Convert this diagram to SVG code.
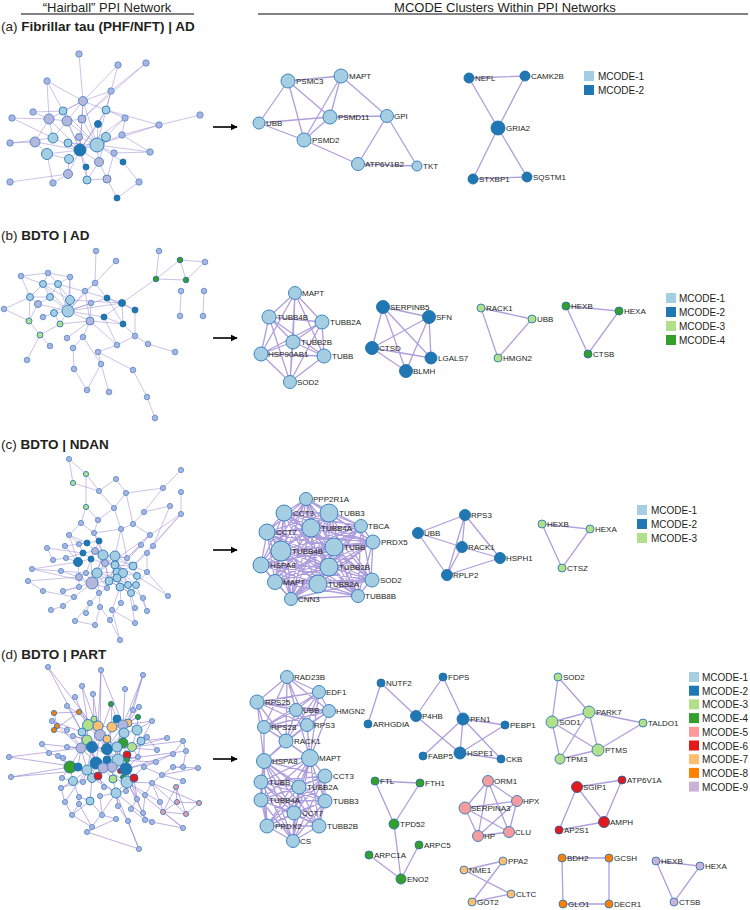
<svg xmlns="http://www.w3.org/2000/svg" width="750" height="910" viewBox="0 0 750 910">
<style>
text{font-family:"Liberation Sans",Arial,sans-serif;fill:#231f20}
.hd{font-size:13px}
.ti{font-size:13.5px}
.lb{font-size:8px}
.lg{font-size:10px}
.hb{stroke:#9b86d2;stroke-width:.6;fill:none;opacity:.85}
.hbd{stroke:#8f78cc;stroke-width:.7;fill:none;opacity:.85}
.ce{stroke:#a18dd6;stroke-width:1.3;fill:none;opacity:.85}
circle{stroke-width:.9}
.g{fill:#a8b5df;stroke:#5f8fd0}
.lv{fill:#b4b7dc;stroke:#4c82c4}
.n1{fill:#a6cee3;stroke:#2b7bba}
.n2{fill:#1f78b4;stroke:#1d6fa9}
.n3{fill:#b2df8a;stroke:#2b7bba}
.n4{fill:#33a02c;stroke:#2b6fa0}
.n5{fill:#f59c9f;stroke:#2b7bba}
.n6{fill:#e31a1c;stroke:#2b5fa0}
.n7{fill:#fdbf6f;stroke:#2b7bba}
.n8{fill:#ff7f00;stroke:#2b7bba}
.n9{fill:#cab2d6;stroke:#2b7bba}
.ar{stroke:#000;stroke-width:1.6}
</style>
<defs>
<marker id="ah" viewBox="0 0 10 10" refX="9" refY="5" markerWidth="4.5" markerHeight="4.5" orient="auto"><path d="M0 0L10 5L0 10z" fill="#000"/></marker>
</defs>
<rect width="750" height="910" fill="#fff"/>

<g id="headers">
<text class="hd" x="107" y="11.5" text-anchor="middle">“Hairball” PPI Network</text>
<line x1="21" y1="14" x2="194" y2="14" stroke="#58595b" stroke-width="1.5"/>
<text class="hd" x="505" y="11.5" text-anchor="middle">MCODE Clusters Within PPI Networks</text>
<line x1="258" y1="14" x2="748" y2="14" stroke="#58595b" stroke-width="1.5"/>
<text class="ti" x="1" y="31">(a) <tspan font-weight="bold">Fibrillar tau (PHF/NFT) | AD</tspan></text>
<text class="ti" x="1" y="240">(b) <tspan font-weight="bold">BDTO | AD</tspan></text>
<text class="ti" x="1" y="449">(c) <tspan font-weight="bold">BDTO | NDAN</tspan></text>
<text class="ti" x="1" y="659">(d) <tspan font-weight="bold">BDTO | PART</tspan></text>
</g>

<g id="connectors">
<path id="hb-a-edges" class="hb" d="M79 54L83 101M118 65L83 101M146 63L111 91M47 81L83 101M47 81L49 119M47 81L63 111M111 91L83 101M111 91L106 110M111 91L82 119M83 101L63 111M83 101L106 110M83 101L82 119M83 101L49 119M83 101L67 121M83 101L97 145M83 101L80 150M12 118L49 119M12 118L53 138M33 112L49 119M33 112L63 111M200 115L159 125M159 125L106 110M159 125L122 135M125 118L106 110M125 118L97 145M125 118L80 150M49 119L67 121M49 119L53 138M49 119L35 142M49 119L80 150M67 121L82 119M67 121L97 145M67 121L80 150M67 121L53 138M82 119L80 150M82 119L97 145M98 124L97 145M98 124L106 110M98 124L80 150M122 135L97 145M122 135L150 152M106 137L97 145M106 137L80 150M79 137L80 150M79 137L97 145M53 138L80 150M35 142L10 143M35 142L47 154M35 142L80 150M68 143L80 150M68 143L97 145M97 145L80 150M97 145L114 153M97 145L99 162M97 145L106 110M80 150L47 154M80 150L69 159M80 150L99 162M80 150L86 167M80 150L68 174M80 150L87 180M10 143L53 138M47 154L69 159M47 154L53 183M114 153L150 152M150 152L97 145M69 159L68 174M99 162L107 179M99 162L87 180M123 162L97 145M123 162L139 182M86 167L87 180M68 174L53 183M68 174L10 182M87 180L107 179M107 179L117 198M139 182L117 198M63 111L97 145M63 111L80 150M106 110L80 150M106 137L99 162M125 118L122 135M114 153L107 179M159 125L97 145M146 63L82 119M118 65L106 110"/>
<path id="hb-b-edges" class="hb" d="M96 251L95 283M159 251L156 279M116 261L95 283M180 260L156 279M180 260L186 280M205 262L186 280M205 262L180 260M156 279L186 280M156 279L122 303M181 291L180 316M204 291L203 316M48 273L21 276M48 273L70 277M48 273L43 284M48 273L58 284M21 276L43 284M21 276L30 297M70 277L58 284M70 277L70 300M70 277L68 311M95 283L68 311M95 283L107 298M95 283L85 291M43 284L58 284M43 284L30 297M43 284L50 297M43 284L70 300M43 284L68 311M58 284L50 297M58 284L70 300M58 284L68 311M30 297L50 297M30 297L4 309M30 297L29 321M30 297L38 304M50 297L68 311M50 297L38 304M70 300L68 311M70 300L54 313M38 304L68 311M38 304L29 321M4 309L29 321M68 311L54 313M68 311L60 324M68 311L107 298M68 311L91 303M68 311L104 317M68 311L90 321M68 311L122 303M54 313L60 324M43 317L54 313M29 321L40 335M60 324L40 335M60 324L90 321M40 335L50 346M40 335L27 360M85 291L68 311M107 298L122 303M107 298L135 310M107 298L123 324M122 303L135 310M122 303L123 324M104 317L123 324M122 303L104 317M91 303L90 321M90 321L117 345M90 321L83 337M90 321L123 324M83 337L73 348M83 337L101 364M67 338L90 321M73 348L74 369M117 345L98 352M117 345L135 336M135 336L148 344M148 344L175 352M98 352L101 364M101 364L109 392M101 364L87 390M74 369L87 390M98 352L133 370M133 370L147 397M147 397L155 418M135 310L135 336M104 317L117 345M123 324L135 336M85 291L90 321M70 300L122 303M58 284L107 298"/>
<path id="hb-c-edges" class="hb" d="M69 459L86 474M69 459L73 483M86 474L86 507M86 474L99 491M116 479L99 491M116 479L126 493M73 483L99 491M99 491L114 508M181 470L163 488M163 488L144 512M163 488L126 493M126 493L114 508M126 493L133 524M144 512L170 506M144 512L133 524M181 492L181 514M181 514L150 535M86 507L81 523M86 507L98 520M114 508L98 520M114 508L121 529M98 520L94 533M81 523L69 535M81 523L94 533M133 524L121 529M133 524L150 535M121 529L94 533M170 506L153 546M181 514L153 546M103 555L115 556M103 555L95 551M103 555L105 563M103 555L97 573M103 555L115 565M103 555L117 572M103 555L109 581M103 555L92 583M103 555L133 566M103 555L127 558M115 556L115 565M115 556L117 572M115 556L127 558M115 556L123 573M115 556L117 578M115 556L97 573M115 556L133 566M115 556L128 585M97 573L92 583M97 573L109 581M97 573L105 563M97 573L86 573M97 573L107 588M97 573L99 593M97 573L117 572M97 573L117 578M92 583L86 573M92 583L79 577M92 583L109 581M92 583L99 593M92 583L107 588M92 583L117 572M92 583L91 559M117 572L123 573M117 572L117 578M117 572L128 585M117 572L120 587M117 572L133 566M123 573L137 576M123 573L128 585M123 573L136 585M123 573L120 587M115 565L133 566M115 565L137 576M115 565L109 581M115 565L120 587M105 563L95 551M105 563L91 559M105 563L109 581M105 563L115 565M95 551L91 559M95 551L83 553M95 551L99 541M95 551L87 543M91 559L83 553M91 559L78 562M91 559L86 573M78 562L83 553M78 562L79 577M78 562L66 558M109 581L117 578M109 581L107 588M109 581L120 587M109 581L131 593M117 578L128 585M117 578L120 587M128 585L136 585M128 585L131 593M128 585L120 587M136 585L137 576M136 585L131 593M133 566L137 576M133 566L127 558M133 566L147 553M133 566L147 572M127 558L141 545M127 558L121 529M127 558L150 535M99 593L107 588M99 593L90 603M99 593L100 607M120 587L131 593M120 587L121 603M87 543L79 544M87 543L99 541M87 543L69 535M99 541L94 533M99 541L103 555M83 553L79 544M83 553L66 558M86 573L79 577M79 577L79 587M79 577L61 571M47 548L83 553M47 548L53 560M65 546L87 543M65 546L78 562M79 544L69 535M53 560L66 558M32 569L61 571M32 569L78 562M61 571L86 573M28 581L79 577M28 581L43 591M43 591L74 597M63 591L92 583M63 591L79 587M74 597L92 583M90 603L86 613M63 606L74 597M51 610L63 606M100 607L110 620M112 610L120 587M135 608L131 593M147 611L136 585M147 611L143 598M143 598L128 585M168 596L137 576M168 596L147 572M75 621L90 603M95 625L100 607M95 625L75 621M110 620L120 640M135 623L112 610M135 623L128 585M120 640L112 610M121 603L110 620M141 545L150 535M153 546L147 553M147 553L147 572M147 572L136 585M94 533L103 555M121 529L115 556M69 535L78 562M150 535L97 573M141 545L109 581M181 514L133 566M32 569L92 583"/>
<path id="hb-d-edges" class="hbd" d="M48 667L82 732M48 667L100 735M101 670L98 726M101 670L123 725M143 675L133 710M143 675L124 733M82 686L88 725M82 686L100 735M125 689L123 725M93 694L94 719M93 694L98 726M75 697L88 725M111 704L112 727M111 704L100 735M111 704L117 719M139 707L128 723M139 707L133 710M67 706L82 732M67 706L98 726M54 713L57 726M54 713L79 712M79 712L54 730M79 712L88 725M133 710L124 733M138 717L123 725M138 717L137 730M52 721L82 732M52 721L81 748M57 726L54 730M57 726L67 730M152 721L137 730M152 721L141 741M54 730L87 740M73 736L81 748M73 736L87 740M147 737L141 741M147 737L157 750M167 738L141 741M167 738L132 747M183 741L173 754M183 741L186 751M42 744L81 748M42 744L49 753M67 747L81 748M49 753L58 756M9 757L81 748M9 757L78 767M58 756L70 767M138 757L118 760M138 757L126 769M157 750L117 747M173 754L156 762M156 762L126 769M186 751L183 767M183 767L173 767M198 768L173 767M198 768L162 775M63 758L70 767M144 767L127 782M173 767L162 775M11 777L70 767M11 777L87 770M62 778L73 781M62 778L70 767M162 775L152 783M183 781L176 787M152 783L127 782M61 788L73 781M61 788L65 802M176 787L177 802M176 787L163 812M177 802L199 803M177 802L163 812M199 803L186 814M163 812L186 814M176 787L186 814M160 802L163 812M160 802L152 783M79 797L90 801M79 797L79 804M100 796L116 793M65 802L72 815M137 799L127 782M145 795L152 783M145 795L143 813M79 804L72 815M118 806L116 793M131 809L137 799M72 815L92 827M102 815L90 801M102 815L116 819M143 813L145 820M145 820L152 822M152 822L183 828M128 821L118 806M128 821L139 849M116 819L87 832M92 827L87 832M87 832L139 849M183 828L163 812M104 787L98 776M83 782L87 770M183 781L162 775M79 804L92 827M72 815L90 801M131 809L145 820M100 796L102 815M143 675L123 725M101 670L100 735M139 849L116 793M183 828L127 782M199 803L152 783M186 751L118 760M183 741L132 747M65 802L87 770M61 788L92 778M92 827L116 793M143 813L127 782M173 754L126 769M156 762L118 760M160 802L127 782M152 822L116 793M145 820L126 769M186 814L152 783M152 721L123 725M88 725L98 726M88 725L100 735M88 725L87 740M88 725L82 732M88 725L81 748M98 726L112 727M98 726L100 735M98 726L107 739M98 726L92 747M112 727L123 725M112 727L124 733M112 727L107 739M112 727L107 749M123 725L128 723M123 725L124 733M123 725L123 743M123 725L117 747M128 723L137 730M82 732L81 748M82 732L87 740M100 735L107 739M100 735L92 747M100 735L107 749M100 735L96 763M124 733L137 730M124 733L123 743M124 733L117 747M124 733L118 760M137 730L141 741M137 730L132 747M87 740L81 748M87 740L92 747M87 740L96 763M107 739L107 749M107 739L117 747M123 743L117 747M123 743L132 747M123 743L118 760M123 743L127 755M81 748L92 747M81 748L70 767M81 748L78 767M81 748L96 763M92 747L107 749M92 747L96 763M92 747L87 770M107 749L117 747M107 749L107 760M107 749L118 760M107 749L112 767M117 747L118 760M117 747L112 767M132 747L127 755M132 747L138 757M127 755L118 760M127 755L126 769M96 763L107 760M96 763L87 770M96 763L92 778M96 763L103 768M107 760L118 760M107 760L103 768M118 760L112 767M118 760L126 769M118 760L127 782M70 767L78 767M70 767L73 781M78 767L87 770M112 767L103 768M112 767L126 769M112 767L113 779M87 770L92 778M87 770L73 781M103 768L98 776M103 768L113 779M126 769L127 782M126 769L134 778M92 778L98 776M92 778L90 801M113 779L127 782M113 779L116 793M127 782L134 778M127 782L116 793M134 778L137 799M73 781L79 797M116 793L126 791M116 793L118 806M94 719L88 725M94 719L98 726M117 719L112 727M117 719L123 725M138 717L128 723M141 741L132 747M141 741L138 757M156 762L144 767M162 775L144 767M82 732L96 763M88 725L107 749M87 740L118 760M100 735L117 747M81 748L87 770M123 725L107 749M124 733L107 749M92 747L118 760M96 763L127 782M87 770L116 793M92 778L116 793M78 767L92 778"/>
<g id="cluster-edges">
<path class="ce" d="M288 81L341 76M288 81L259 123M288 81L330 117M288 81L304 140M341 76L330 117M341 76L304 140M341 76L387 116M259 123L330 117M259 123L304 140M330 117L304 140M330 117L387 116M304 140L358 164M387 116L358 164M387 116L417 166M358 164L417 166"/>
<path class="ce" d="M469 78L525 76M469 78L498 128M525 76L498 128M498 128L473 179M498 128L527 177M473 179L527 177"/>
<path class="ce" d="M295 293L269 317M295 293L322 322M295 293L293 342M295 293L261 354M295 293L324 356M295 293L290 382M269 317L322 322M269 317L293 342M269 317L261 354M269 317L324 356M269 317L290 382M322 322L293 342M322 322L261 354M322 322L324 356M322 322L290 382M293 342L261 354M293 342L324 356M293 342L290 382M261 354L324 356M261 354L290 382M324 356L290 382"/>
<path class="ce" d="M383 307L429 317M383 307L372 348M383 307L431 358M383 307L406 371M429 317L372 348M429 317L431 358M429 317L406 371M372 348L431 358M372 348L406 371"/>
<path class="ce" d="M481 308L532 319L498 358Z"/>
<path class="ce" d="M566 306L619 311L588 354Z"/>
<path class="ce" d="M306 499L284 513M306 499L329 513M306 499L361 526M306 499L267 532M306 499L311 528M306 499L373 542M306 499L281 551M306 499L334 547M306 499L261 565M306 499L329 567M306 499L371 580M306 499L275 582M306 499L318 584M306 499L291 599M306 499L358 596M284 513L329 513M284 513L361 526M284 513L267 532M284 513L311 528M284 513L373 542M284 513L281 551M284 513L334 547M284 513L261 565M284 513L329 567M284 513L371 580M284 513L275 582M284 513L318 584M284 513L291 599M284 513L358 596M329 513L361 526M329 513L267 532M329 513L311 528M329 513L373 542M329 513L281 551M329 513L334 547M329 513L261 565M329 513L329 567M329 513L371 580M329 513L275 582M329 513L318 584M329 513L291 599M329 513L358 596M361 526L267 532M361 526L311 528M361 526L373 542M361 526L281 551M361 526L334 547M361 526L261 565M361 526L329 567M361 526L371 580M361 526L275 582M361 526L318 584M361 526L291 599M361 526L358 596M267 532L311 528M267 532L373 542M267 532L281 551M267 532L334 547M267 532L261 565M267 532L329 567M267 532L371 580M267 532L275 582M267 532L318 584M267 532L291 599M267 532L358 596M311 528L373 542M311 528L281 551M311 528L334 547M311 528L261 565M311 528L329 567M311 528L371 580M311 528L275 582M311 528L318 584M311 528L291 599M311 528L358 596M373 542L281 551M373 542L334 547M373 542L261 565M373 542L329 567M373 542L371 580M373 542L275 582M373 542L318 584M373 542L291 599M373 542L358 596M281 551L334 547M281 551L261 565M281 551L329 567M281 551L371 580M281 551L275 582M281 551L318 584M281 551L291 599M281 551L358 596M334 547L261 565M334 547L329 567M334 547L371 580M334 547L275 582M334 547L318 584M334 547L291 599M334 547L358 596M261 565L329 567M261 565L371 580M261 565L275 582M261 565L318 584M261 565L291 599M261 565L358 596M329 567L371 580M329 567L275 582M329 567L318 584M329 567L291 599M329 567L358 596M371 580L275 582M371 580L318 584M371 580L291 599M371 580L358 596M275 582L318 584M275 582L291 599M275 582L358 596M318 584L291 599M318 584L358 596M291 599L358 596"/>
<path class="ce" d="M465 515L418 533M465 515L462 547M465 515L500 558M465 515L447 575M418 533L462 547M418 533L447 575M462 547L500 558M462 547L447 575M500 558L447 575"/>
<path class="ce" d="M542 524L590 529L562 568Z"/>
<path class="ce" d="M287 677L319 692M287 677L257 702M287 677L296 710M287 677L329 711M287 677L264 727M287 677L307 725M287 677L286 741M319 692L257 702M319 692L296 710M319 692L329 711M319 692L264 727M319 692L307 725M319 692L286 741M257 702L296 710M257 702L329 711M257 702L264 727M257 702L307 725M257 702L286 741M296 710L329 711M296 710L264 727M296 710L307 725M296 710L286 741M329 711L264 727M329 711L307 725M329 711L286 741M264 727L307 725M264 727L286 741M307 725L286 741M257 702L264 761M264 727L264 761M286 741L264 761M286 741L310 758M296 710L310 758M307 725L310 758M329 711L310 758M319 692L310 758M264 727L310 758M307 725L264 761M264 761L310 758M264 761L325 776M264 761L261 782M264 761L299 787M264 761L261 800M264 761L325 801M264 761L294 813M264 761L267 826M264 761L319 826M264 761L293 841M310 758L325 776M310 758L261 782M310 758L299 787M310 758L261 800M310 758L325 801M310 758L294 813M310 758L267 826M310 758L319 826M310 758L293 841M325 776L261 782M325 776L299 787M325 776L261 800M325 776L325 801M325 776L294 813M325 776L267 826M325 776L319 826M325 776L293 841M261 782L299 787M261 782L261 800M261 782L325 801M261 782L294 813M261 782L267 826M261 782L319 826M261 782L293 841M299 787L261 800M299 787L325 801M299 787L294 813M299 787L267 826M299 787L319 826M299 787L293 841M261 800L325 801M261 800L294 813M261 800L267 826M261 800L319 826M261 800L293 841M325 801L294 813M325 801L267 826M325 801L319 826M325 801L293 841M294 813L267 826M294 813L319 826M294 813L293 841M267 826L319 826M267 826L293 841M319 826L293 841"/>
<path class="ce" d="M381 683L416 716M381 683L368 724M443 677L416 716M443 677L463 719M416 716L460 753M463 719L423 756M463 719L460 753M463 719L505 725M463 719L501 759M460 753L505 725M460 753L501 759"/>
<path class="ce" d="M558 677L552 722M558 677L589 712M589 712L552 722M589 712L643 723M589 712L598 750M589 712L560 759M552 722L598 750M552 722L560 759M598 750L643 723M598 750L560 759"/>
<path class="ce" d="M375 781L420 783M375 781L394 824M420 783L394 824M394 824L401 879M419 845L401 879M369 855L401 879"/>
<path class="ce" d="M488 781L517 801M488 781L465 808M488 781L478 836M488 781L509 832M465 808L517 801M465 808L478 836M465 808L509 832M517 801L509 832M517 801L478 836M478 836L509 832"/>
<path class="ce" d="M577 787L622 780M577 787L604 822M577 787L559 830M622 780L604 822M604 822L559 830"/>
<path class="ce" d="M464 870L503 861M464 870L511 894M503 861L472 902M472 902L511 894"/>
<path class="ce" d="M562 858L609 858L609 904L563 904Z"/>
<path class="ce" d="M656 861L700 866L674 902Z"/>
</g>
</g>

<g id="hairball-a">
<circle class="g" cx="79" cy="54" r="3.2"/><circle class="g" cx="118" cy="65" r="3.2"/><circle class="g" cx="146" cy="63" r="3.2"/><circle class="g" cx="47" cy="81" r="3.2"/><circle class="g" cx="111" cy="91" r="3.2"/><circle class="g" cx="12" cy="118" r="3.2"/><circle class="g" cx="33" cy="112" r="3.2"/><circle class="g" cx="125" cy="118" r="3.2"/><circle class="g" cx="200" cy="115" r="3.2"/><circle class="g" cx="159" cy="125" r="3.2"/><circle class="g" cx="122" cy="135" r="3.2"/><circle class="g" cx="10" cy="143" r="3.2"/><circle class="g" cx="114" cy="153" r="3.2"/><circle class="g" cx="150" cy="152" r="3.2"/><circle class="g" cx="53" cy="183" r="3.2"/><circle class="g" cx="10" cy="182" r="3.2"/><circle class="g" cx="139" cy="182" r="3.2"/>
<circle class="lv" cx="83" cy="101" r="4.5"/><circle class="lv" cx="49" cy="119" r="5"/><circle class="lv" cx="67" cy="121" r="5"/><circle class="lv" cx="82" cy="119" r="4"/><circle class="lv" cx="79" cy="137" r="3.5"/><circle class="lv" cx="35" cy="142" r="5"/><circle class="lv" cx="99" cy="162" r="4.5"/><circle class="lv" cx="68" cy="174" r="4.5"/><circle class="lv" cx="107" cy="179" r="4"/>
<circle class="n1" cx="63" cy="111" r="4"/><circle class="n1" cx="106" cy="110" r="4"/><circle class="n1" cx="106" cy="137" r="4.5"/><circle class="n1" cx="53" cy="138" r="5"/><circle class="n1" cx="68" cy="143" r="4"/><circle class="n1" cx="97" cy="145" r="7"/><circle class="n1" cx="47" cy="154" r="5.5"/><circle class="n1" cx="69" cy="159" r="4.5"/><circle class="n1" cx="87" cy="180" r="4"/>
<circle class="n2" cx="98" cy="124" r="3.5"/><circle class="n2" cx="80" cy="150" r="6"/><circle class="n2" cx="123" cy="162" r="3"/><circle class="n2" cx="86" cy="167" r="3"/><circle class="n2" cx="117" cy="198" r="3"/>
</g>

<g id="hairball-b">
<circle class="g" cx="96" cy="251" r="2.8"/><circle class="g" cx="159" cy="251" r="2.8"/><circle class="g" cx="116" cy="261" r="2.8"/><circle class="g" cx="205" cy="262" r="2.8"/><circle class="g" cx="48" cy="273" r="2.8"/><circle class="g" cx="21" cy="276" r="2.8"/><circle class="g" cx="70" cy="277" r="2.8"/><circle class="g" cx="95" cy="283" r="2.8"/><circle class="g" cx="181" cy="291" r="2.8"/><circle class="g" cx="204" cy="291" r="2.8"/><circle class="g" cx="85" cy="291" r="2.8"/><circle class="g" cx="91" cy="303" r="2.8"/><circle class="g" cx="4" cy="309" r="2.8"/><circle class="g" cx="43" cy="317" r="2.8"/><circle class="g" cx="180" cy="316" r="2.8"/><circle class="g" cx="203" cy="316" r="2.8"/><circle class="g" cx="83" cy="337" r="2.8"/><circle class="g" cx="135" cy="336" r="2.8"/><circle class="g" cx="67" cy="338" r="2.8"/><circle class="g" cx="73" cy="348" r="2.8"/><circle class="g" cx="117" cy="345" r="2.8"/><circle class="g" cx="50" cy="346" r="2.8"/><circle class="g" cx="148" cy="344" r="2.8"/><circle class="g" cx="98" cy="352" r="2.8"/><circle class="g" cx="175" cy="352" r="2.8"/><circle class="g" cx="27" cy="360" r="2.8"/><circle class="g" cx="101" cy="364" r="2.8"/><circle class="g" cx="74" cy="369" r="2.8"/><circle class="g" cx="133" cy="370" r="2.8"/><circle class="g" cx="87" cy="390" r="2.8"/><circle class="g" cx="109" cy="392" r="2.8"/><circle class="g" cx="147" cy="397" r="2.8"/><circle class="g" cx="155" cy="418" r="2.8"/>
<circle class="n4" cx="180" cy="260" r="2.8"/><circle class="n4" cx="156" cy="279" r="2.8"/><circle class="n4" cx="186" cy="280" r="2.8"/>
<circle class="n1" cx="43" cy="284" r="3.5"/><circle class="n1" cx="58" cy="284" r="3.5"/><circle class="n1" cx="30" cy="297" r="3.5"/><circle class="n1" cx="50" cy="297" r="3.5"/><circle class="n1" cx="70" cy="300" r="4.5"/><circle class="n1" cx="68" cy="311" r="6"/><circle class="n1" cx="54" cy="313" r="3.5"/>
<circle class="lv" cx="38" cy="304" r="3.5"/><circle class="lv" cx="90" cy="321" r="4"/>
<circle class="n2" cx="107" cy="298" r="3"/><circle class="n2" cx="122" cy="303" r="3.5"/><circle class="n2" cx="135" cy="310" r="3"/><circle class="n2" cx="104" cy="317" r="3"/><circle class="n2" cx="123" cy="324" r="3"/>
<circle class="n3" cx="29" cy="321" r="3"/><circle class="n3" cx="60" cy="324" r="3"/><circle class="n3" cx="40" cy="335" r="3"/>
</g>

<g id="hairball-c">
<circle class="g" cx="69" cy="459" r="2.6"/><circle class="g" cx="181" cy="470" r="2.6"/><circle class="g" cx="116" cy="479" r="2.6"/><circle class="g" cx="99" cy="491" r="2.6"/><circle class="g" cx="163" cy="488" r="2.6"/><circle class="g" cx="126" cy="493" r="2.6"/><circle class="g" cx="181" cy="492" r="2.6"/><circle class="g" cx="114" cy="508" r="2.6"/><circle class="g" cx="144" cy="512" r="2.6"/><circle class="g" cx="170" cy="506" r="2.6"/><circle class="g" cx="181" cy="514" r="2.6"/><circle class="g" cx="98" cy="520" r="2.6"/><circle class="g" cx="81" cy="523" r="2.6"/><circle class="g" cx="133" cy="524" r="2.6"/><circle class="g" cx="121" cy="529" r="2.6"/><circle class="g" cx="69" cy="535" r="2.6"/><circle class="g" cx="94" cy="533" r="2.6"/><circle class="g" cx="150" cy="535" r="2.6"/><circle class="g" cx="47" cy="548" r="2.6"/><circle class="g" cx="65" cy="546" r="2.6"/><circle class="g" cx="79" cy="544" r="2.6"/><circle class="g" cx="141" cy="545" r="2.6"/><circle class="g" cx="153" cy="546" r="2.6"/><circle class="g" cx="127" cy="558" r="2.6"/><circle class="g" cx="53" cy="560" r="2.6"/><circle class="g" cx="66" cy="558" r="2.6"/><circle class="g" cx="147" cy="553" r="2.6"/><circle class="g" cx="32" cy="569" r="2.6"/><circle class="g" cx="61" cy="571" r="2.6"/><circle class="g" cx="86" cy="573" r="2.6"/><circle class="g" cx="147" cy="572" r="2.6"/><circle class="g" cx="28" cy="581" r="2.6"/><circle class="g" cx="79" cy="587" r="2.6"/><circle class="g" cx="107" cy="588" r="2.6"/><circle class="g" cx="43" cy="591" r="2.6"/><circle class="g" cx="63" cy="591" r="2.6"/><circle class="g" cx="99" cy="593" r="2.6"/><circle class="g" cx="168" cy="596" r="2.6"/><circle class="g" cx="143" cy="598" r="2.6"/><circle class="g" cx="74" cy="597" r="2.6"/><circle class="g" cx="90" cy="603" r="2.6"/><circle class="g" cx="121" cy="603" r="2.6"/><circle class="g" cx="63" cy="606" r="2.6"/><circle class="g" cx="100" cy="607" r="2.6"/><circle class="g" cx="51" cy="610" r="2.6"/><circle class="g" cx="112" cy="610" r="2.6"/><circle class="g" cx="135" cy="608" r="2.6"/><circle class="g" cx="147" cy="611" r="2.6"/><circle class="g" cx="86" cy="613" r="2.6"/><circle class="g" cx="75" cy="621" r="2.6"/><circle class="g" cx="110" cy="620" r="2.6"/><circle class="g" cx="95" cy="625" r="2.6"/><circle class="g" cx="135" cy="623" r="2.6"/><circle class="g" cx="120" cy="640" r="2.6"/>
<circle class="n3" cx="86" cy="474" r="2.6"/><circle class="n3" cx="73" cy="483" r="2.6"/><circle class="n3" cx="86" cy="507" r="2.6"/>
<circle class="lv" cx="95" cy="551" r="3.5"/><circle class="lv" cx="105" cy="563" r="3.5"/><circle class="lv" cx="79" cy="577" r="3.5"/>
<circle class="n1" cx="103" cy="555" r="5"/><circle class="n1" cx="115" cy="556" r="5"/><circle class="n1" cx="115" cy="565" r="4"/><circle class="n1" cx="133" cy="566" r="4"/><circle class="n1" cx="97" cy="573" r="5"/><circle class="n1" cx="117" cy="572" r="4"/><circle class="n1" cx="123" cy="573" r="4.5"/><circle class="n1" cx="137" cy="576" r="3.5"/><circle class="n1" cx="109" cy="581" r="4"/><circle class="n1" cx="117" cy="578" r="4"/><circle class="n1" cx="128" cy="585" r="3.5"/><circle class="n1" cx="136" cy="585" r="3.5"/><circle class="n1" cx="120" cy="587" r="4"/><circle class="n1" cx="131" cy="593" r="3.5"/>
<circle class="lv" cx="92" cy="583" r="6"/>
<circle class="n2" cx="87" cy="543" r="3"/><circle class="n2" cx="99" cy="541" r="3"/><circle class="n2" cx="83" cy="553" r="3"/><circle class="n2" cx="91" cy="559" r="3"/><circle class="n2" cx="78" cy="562" r="4.5"/>
</g>

<g id="hairball-d">
<circle class="g" cx="48" cy="667" r="2.6"/><circle class="g" cx="101" cy="670" r="2.6"/><circle class="g" cx="143" cy="675" r="2.6"/><circle class="g" cx="82" cy="686" r="2.6"/><circle class="g" cx="125" cy="689" r="2.6"/><circle class="g" cx="93" cy="694" r="2.6"/><circle class="g" cx="75" cy="697" r="2.6"/><circle class="g" cx="139" cy="707" r="2.6"/><circle class="g" cx="67" cy="706" r="2.6"/><circle class="g" cx="133" cy="710" r="2.6"/><circle class="g" cx="52" cy="721" r="2.6"/><circle class="g" cx="152" cy="721" r="2.6"/><circle class="g" cx="73" cy="736" r="2.6"/><circle class="g" cx="147" cy="737" r="2.6"/><circle class="g" cx="67" cy="730" r="2.6"/><circle class="g" cx="167" cy="738" r="2.6"/><circle class="g" cx="183" cy="741" r="2.6"/><circle class="g" cx="42" cy="744" r="2.6"/><circle class="g" cx="67" cy="747" r="2.6"/><circle class="g" cx="49" cy="753" r="2.6"/><circle class="g" cx="9" cy="757" r="2.6"/><circle class="g" cx="58" cy="756" r="2.6"/><circle class="g" cx="138" cy="757" r="2.6"/><circle class="g" cx="157" cy="750" r="2.6"/><circle class="g" cx="173" cy="754" r="2.6"/><circle class="g" cx="186" cy="751" r="2.6"/><circle class="g" cx="156" cy="762" r="2.6"/><circle class="g" cx="183" cy="767" r="2.6"/><circle class="g" cx="198" cy="768" r="2.6"/><circle class="g" cx="63" cy="758" r="2.6"/><circle class="g" cx="144" cy="767" r="2.6"/><circle class="g" cx="173" cy="767" r="2.6"/><circle class="g" cx="11" cy="777" r="2.6"/><circle class="g" cx="62" cy="778" r="2.6"/><circle class="g" cx="83" cy="782" r="2.6"/><circle class="g" cx="162" cy="775" r="2.6"/><circle class="g" cx="183" cy="781" r="2.6"/><circle class="g" cx="152" cy="783" r="2.6"/><circle class="g" cx="61" cy="788" r="2.6"/><circle class="g" cx="104" cy="787" r="2.6"/><circle class="g" cx="126" cy="791" r="2.6"/><circle class="g" cx="79" cy="797" r="2.6"/><circle class="g" cx="100" cy="796" r="2.6"/><circle class="g" cx="65" cy="802" r="2.6"/><circle class="g" cx="137" cy="799" r="2.6"/><circle class="g" cx="145" cy="795" r="2.6"/><circle class="g" cx="160" cy="802" r="2.6"/><circle class="g" cx="79" cy="804" r="2.6"/><circle class="g" cx="118" cy="806" r="2.6"/><circle class="g" cx="131" cy="809" r="2.6"/><circle class="g" cx="72" cy="815" r="2.6"/><circle class="g" cx="102" cy="815" r="2.6"/><circle class="g" cx="143" cy="813" r="2.6"/><circle class="g" cx="145" cy="820" r="2.6"/><circle class="g" cx="152" cy="822" r="2.6"/><circle class="g" cx="128" cy="821" r="2.6"/><circle class="g" cx="116" cy="819" r="2.6"/><circle class="g" cx="92" cy="827" r="2.6"/><circle class="g" cx="87" cy="832" r="2.6"/><circle class="g" cx="183" cy="828" r="2.6"/><circle class="g" cx="139" cy="849" r="2.6"/>
<circle class="n8" cx="54" cy="713" r="2.6"/><circle class="n8" cx="79" cy="712" r="2.6"/><circle class="n8" cx="57" cy="726" r="2.6"/><circle class="n8" cx="54" cy="730" r="2.6"/>
<circle class="n4" cx="111" cy="704" r="2.6"/><circle class="n4" cx="138" cy="717" r="2.6"/>
<circle class="n5" cx="176" cy="787" r="2.5"/><circle class="n5" cx="177" cy="802" r="2.5"/><circle class="n5" cx="199" cy="803" r="2.5"/><circle class="n5" cx="163" cy="812" r="2.5"/><circle class="n5" cx="186" cy="814" r="2.5"/>
<circle class="n3" cx="94" cy="719" r="3"/><circle class="n2" cx="117" cy="719" r="4"/>
<circle class="n7" cx="128" cy="723" r="4"/><circle class="n3" cx="88" cy="725" r="5.5"/><circle class="n7" cx="98" cy="726" r="5"/><circle class="n7" cx="112" cy="727" r="5"/><circle class="lv" cx="123" cy="725" r="5"/>
<circle class="n1" cx="82" cy="732" r="4"/><circle class="lv" cx="100" cy="735" r="5.5"/><circle class="n1" cx="124" cy="733" r="5"/><circle class="n1" cx="137" cy="730" r="5"/>
<circle class="n3" cx="87" cy="740" r="5"/><circle class="n7" cx="107" cy="739" r="4"/><circle class="n4" cx="123" cy="743" r="5"/><circle class="n1" cx="141" cy="741" r="4"/>
<circle class="lv" cx="81" cy="748" r="5"/><circle class="n2" cx="92" cy="747" r="5.5"/><circle class="n2" cx="107" cy="749" r="5.5"/><circle class="n1" cx="117" cy="747" r="5"/><circle class="n3" cx="132" cy="747" r="4.5"/>
<circle class="n6" cx="127" cy="755" r="4"/>
<circle class="n2" cx="96" cy="763" r="6"/><circle class="n2" cx="107" cy="760" r="4"/><circle class="n1" cx="118" cy="760" r="6"/>
<circle class="n4" cx="70" cy="767" r="6"/><circle class="n2" cx="78" cy="767" r="4"/><circle class="lv" cx="112" cy="767" r="5"/><circle class="n4" cx="127" cy="760" r="2.5"/>
<circle class="n1" cx="87" cy="770" r="5"/><circle class="lv" cx="103" cy="768" r="5"/><circle class="n6" cx="120" cy="771" r="2.5"/><circle class="n2" cx="126" cy="769" r="6"/>
<circle class="n1" cx="92" cy="778" r="4.5"/><circle class="n6" cx="98" cy="776" r="4"/><circle class="n3" cx="113" cy="779" r="4"/><circle class="n4" cx="123" cy="777" r="2.5"/><circle class="n1" cx="127" cy="782" r="6"/><circle class="n6" cx="134" cy="778" r="4"/>
<circle class="n1" cx="73" cy="781" r="4.5"/><circle class="n1" cx="116" cy="793" r="5"/><circle class="n1" cx="90" cy="801" r="4"/>
</g>

<g id="arrows">
<line class="ar" x1="213" y1="127" x2="237" y2="127" marker-end="url(#ah)"/>
<line class="ar" x1="213" y1="338" x2="237" y2="338" marker-end="url(#ah)"/>
<line class="ar" x1="213" y1="550" x2="237" y2="550" marker-end="url(#ah)"/>
<line class="ar" x1="213" y1="759" x2="237" y2="759" marker-end="url(#ah)"/>
</g>

<g id="a-TKT"><circle class="n1" cx="417" cy="166" r="5"/><text class="lb" x="423" y="169">TKT</text></g>
<g id="a-GPI"><circle class="n1" cx="387" cy="116" r="6.5"/><text class="lb" x="394" y="119">GPI</text></g>
<g id="a-ATP6V1B2"><circle class="n1" cx="358" cy="164" r="6.5"/><text class="lb" x="365" y="167">ATP6V1B2</text></g>
<g id="a-MAPT"><circle class="n1" cx="341" cy="76" r="7"/><text class="lb" x="349" y="79">MAPT</text></g>
<g id="a-PSMD11"><circle class="n1" cx="330" cy="117" r="7"/><text class="lb" x="338" y="120">PSMD11</text></g>
<g id="a-PSMD2"><circle class="n1" cx="304" cy="140" r="7"/><text class="lb" x="312" y="143">PSMD2</text></g>
<g id="a-PSMC3"><circle class="n1" cx="288" cy="81" r="7"/><text class="lb" x="296" y="84">PSMC3</text></g>
<g id="a-UBB"><circle class="n1" cx="259" cy="123" r="6"/><text class="lb" x="266" y="126">UBB</text></g>
<g id="a-NEFL"><circle class="n2" cx="469" cy="78" r="5"/><text class="lb" x="475" y="81">NEFL</text></g>
<g id="a-CAMK2B"><circle class="n2" cx="525" cy="76" r="5"/><text class="lb" x="531" y="79">CAMK2B</text></g>
<g id="a-GRIA2"><circle class="n2" cx="498" cy="128" r="7"/><text class="lb" x="506" y="131">GRIA2</text></g>
<g id="a-STXBP1"><circle class="n2" cx="473" cy="179" r="5"/><text class="lb" x="479" y="182">STXBP1</text></g>
<g id="a-SQSTM1"><circle class="n2" cx="527" cy="177" r="5"/><text class="lb" x="533" y="180">SQSTM1</text></g>
<g id="legend-a">
<rect x="584" y="71" width="10" height="10" fill="#a6cee3"/><text class="lg" x="598" y="80">MCODE-1</text>
<rect x="584" y="85" width="10" height="10" fill="#1f78b4"/><text class="lg" x="598" y="94">MCODE-2</text>
</g>

<g id="b-TUBB"><circle class="n1" cx="324" cy="356" r="7"/><text class="lb" x="332" y="359">TUBB</text></g>
<g id="b-TUBB2A"><circle class="n1" cx="322" cy="322" r="7"/><text class="lb" x="330" y="325">TUBB2A</text></g>
<g id="b-MAPT"><circle class="n1" cx="295" cy="293" r="6.5"/><text class="lb" x="302" y="296">MAPT</text></g>
<g id="b-TUBB2B"><circle class="n1" cx="293" cy="342" r="7"/><text class="lb" x="301" y="345">TUBB2B</text></g>
<g id="b-SOD2"><circle class="n1" cx="290" cy="382" r="6.5"/><text class="lb" x="297" y="385">SOD2</text></g>
<g id="b-TUBB4B"><circle class="n1" cx="269" cy="317" r="7"/><text class="lb" x="277" y="320">TUBB4B</text></g>
<g id="b-HSP90AB1"><circle class="n1" cx="261" cy="354" r="7"/><text class="lb" x="268" y="357">HSP90AB1</text></g>
<g id="b-LGALS7"><circle class="n2" cx="431" cy="358" r="6"/><text class="lb" x="438" y="361">LGALS7</text></g>
<g id="b-SFN"><circle class="n2" cx="429" cy="317" r="6.5"/><text class="lb" x="436" y="320">SFN</text></g>
<g id="b-BLMH"><circle class="n2" cx="406" cy="371" r="6.5"/><text class="lb" x="413" y="374">BLMH</text></g>
<g id="b-SERPINB5"><circle class="n2" cx="383" cy="307" r="6.5"/><text class="lb" x="390" y="310">SERPINB5</text></g>
<g id="b-CTSD"><circle class="n2" cx="372" cy="348" r="6.5"/><text class="lb" x="379" y="351">CTSD</text></g>
<g id="b-RACK1"><circle class="n3" cx="481" cy="308" r="4"/><text class="lb" x="486" y="311">RACK1</text></g>
<g id="b-UBB"><circle class="n3" cx="532" cy="319" r="4"/><text class="lb" x="537" y="322">UBB</text></g>
<g id="b-HMGN2"><circle class="n3" cx="498" cy="358" r="4"/><text class="lb" x="503" y="361">HMGN2</text></g>
<g id="b-HEXB"><circle class="n4" cx="566" cy="306" r="4"/><text class="lb" x="571" y="309">HEXB</text></g>
<g id="b-HEXA"><circle class="n4" cx="619" cy="311" r="4"/><text class="lb" x="624" y="314">HEXA</text></g>
<g id="b-CTSB"><circle class="n4" cx="588" cy="354" r="4"/><text class="lb" x="593" y="357">CTSB</text></g>
<g id="legend-b">
<rect x="666" y="293" width="10" height="10" fill="#a6cee3"/><text class="lg" x="679" y="302">MCODE-1</text>
<rect x="666" y="307" width="10" height="10" fill="#1f78b4"/><text class="lg" x="679" y="316">MCODE-2</text>
<rect x="666" y="321" width="10" height="10" fill="#b2df8a"/><text class="lg" x="679" y="330">MCODE-3</text>
<rect x="666" y="335" width="10" height="10" fill="#33a02c"/><text class="lg" x="679" y="344">MCODE-4</text>
</g>

<g id="c-PRDX5"><circle class="n1" cx="373" cy="542" r="7"/><text class="lb" x="381" y="545">PRDX5</text></g>
<g id="c-SOD2"><circle class="n1" cx="372" cy="580" r="7"/><text class="lb" x="380" y="583">SOD2</text></g>
<g id="c-TBCA"><circle class="n1" cx="361" cy="526" r="6.5"/><text class="lb" x="368" y="529">TBCA</text></g>
<g id="c-TUBB8B"><circle class="n1" cx="358" cy="596" r="6.5"/><text class="lb" x="365" y="599">TUBB8B</text></g>
<g id="c-TUBB"><circle class="n1" cx="334" cy="547" r="9"/><text class="lb" x="344" y="550">TUBB</text></g>
<g id="c-TUBB3"><circle class="n1" cx="329" cy="513" r="9"/><text class="lb" x="339" y="516">TUBB3</text></g>
<g id="c-TUBB2B"><circle class="n1" cx="329" cy="567" r="9"/><text class="lb" x="339" y="570">TUBB2B</text></g>
<g id="c-TUBB2A"><circle class="n1" cx="318" cy="584" r="9"/><text class="lb" x="328" y="587">TUBB2A</text></g>
<g id="c-TUBB4A"><circle class="n1" cx="311" cy="528" r="9"/><text class="lb" x="321" y="531">TUBB4A</text></g>
<g id="c-PPP2R1A"><circle class="n1" cx="306" cy="499" r="6.5"/><text class="lb" x="313" y="502">PPP2R1A</text></g>
<g id="c-CNN3"><circle class="n1" cx="291" cy="599" r="6.5"/><text class="lb" x="298" y="602">CNN3</text></g>
<g id="c-CCT3"><circle class="n1" cx="284" cy="513" r="8"/><text class="lb" x="293" y="516">CCT3</text></g>
<g id="c-TUBB4B"><circle class="n1" cx="281" cy="551" r="10"/><text class="lb" x="292" y="554">TUBB4B</text></g>
<g id="c-MAPT"><circle class="n1" cx="275" cy="582" r="7.5"/><text class="lb" x="283" y="585">MAPT</text></g>
<g id="c-CCT7"><circle class="n1" cx="267" cy="532" r="8"/><text class="lb" x="276" y="535">CCT7</text></g>
<g id="c-HSPA8"><circle class="n1" cx="261" cy="565" r="8"/><text class="lb" x="270" y="568">HSPA8</text></g>
<g id="c-HSPH1"><circle class="n2" cx="500" cy="558" r="5.5"/><text class="lb" x="506" y="561">HSPH1</text></g>
<g id="c-RPS3"><circle class="n2" cx="465" cy="515" r="5.5"/><text class="lb" x="471" y="518">RPS3</text></g>
<g id="c-RACK1"><circle class="n2" cx="462" cy="547" r="5.5"/><text class="lb" x="468" y="550">RACK1</text></g>
<g id="c-RPLP2"><circle class="n2" cx="447" cy="575" r="5.5"/><text class="lb" x="453" y="578">RPLP2</text></g>
<g id="c-UBB"><circle class="n2" cx="418" cy="533" r="5.5"/><text class="lb" x="424" y="536">UBB</text></g>
<g id="c-HEXB"><circle class="n3" cx="542" cy="524" r="4"/><text class="lb" x="547" y="527">HEXB</text></g>
<g id="c-HEXA"><circle class="n3" cx="590" cy="529" r="4"/><text class="lb" x="595" y="532">HEXA</text></g>
<g id="c-CTSZ"><circle class="n3" cx="562" cy="568" r="4"/><text class="lb" x="567" y="571">CTSZ</text></g>
<g id="legend-c">
<rect x="637" y="505" width="10" height="10" fill="#a6cee3"/><text class="lg" x="651" y="514">MCODE-1</text>
<rect x="637" y="519" width="10" height="10" fill="#1f78b4"/><text class="lg" x="651" y="528">MCODE-2</text>
<rect x="637" y="533" width="10" height="10" fill="#b2df8a"/><text class="lg" x="651" y="542">MCODE-3</text>
</g>

<g id="d-HMGN2"><circle class="n1" cx="329" cy="711" r="6.5"/><text class="lb" x="336" y="714">HMGN2</text></g>
<g id="d-CCT3"><circle class="n1" cx="325" cy="776" r="7"/><text class="lb" x="333" y="779">CCT3</text></g>
<g id="d-TUBB3"><circle class="n1" cx="325" cy="801" r="7"/><text class="lb" x="333" y="804">TUBB3</text></g>
<g id="d-EDF1"><circle class="n1" cx="319" cy="692" r="6.5"/><text class="lb" x="326" y="695">EDF1</text></g>
<g id="d-TUBB2B"><circle class="n1" cx="319" cy="826" r="7"/><text class="lb" x="327" y="829">TUBB2B</text></g>
<g id="d-MAPT"><circle class="n1" cx="310" cy="758" r="8.5"/><text class="lb" x="319" y="761">MAPT</text></g>
<g id="d-RPS3"><circle class="n1" cx="307" cy="725" r="6.5"/><text class="lb" x="314" y="728">RPS3</text></g>
<g id="d-TUBB2A"><circle class="n1" cx="299" cy="787" r="7"/><text class="lb" x="307" y="790">TUBB2A</text></g>
<g id="d-UBB"><circle class="n1" cx="296" cy="710" r="6.5"/><text class="lb" x="303" y="713">UBB</text></g>
<g id="d-CCT7"><circle class="n1" cx="294" cy="813" r="7"/><text class="lb" x="302" y="816">CCT7</text></g>
<g id="d-CS"><circle class="n1" cx="293" cy="841" r="6.5"/><text class="lb" x="300" y="844">CS</text></g>
<g id="d-RAD23B"><circle class="n1" cx="287" cy="677" r="6.5"/><text class="lb" x="294" y="680">RAD23B</text></g>
<g id="d-RACK1"><circle class="n1" cx="286" cy="741" r="7"/><text class="lb" x="294" y="744">RACK1</text></g>
<g id="d-PRDX2"><circle class="n1" cx="267" cy="826" r="7"/><text class="lb" x="275" y="829">PRDX2</text></g>
<g id="d-RPS28"><circle class="n1" cx="264" cy="727" r="6.5"/><text class="lb" x="271" y="730">RPS28</text></g>
<g id="d-HSPA8"><circle class="n1" cx="264" cy="761" r="7.5"/><text class="lb" x="272" y="764">HSPA8</text></g>
<g id="d-TUBB"><circle class="n1" cx="261" cy="782" r="7"/><text class="lb" x="269" y="785">TUBB</text></g>
<g id="d-TUBB4A"><circle class="n1" cx="261" cy="800" r="7"/><text class="lb" x="269" y="803">TUBB4A</text></g>
<g id="d-RPS25"><circle class="n1" cx="257" cy="702" r="7"/><text class="lb" x="265" y="705">RPS25</text></g>
<g id="d-PEBP1"><circle class="n2" cx="505" cy="725" r="4"/><text class="lb" x="510" y="728">PEBP1</text></g>
<g id="d-CKB"><circle class="n2" cx="501" cy="759" r="4"/><text class="lb" x="506" y="762">CKB</text></g>
<g id="d-PFN1"><circle class="n2" cx="463" cy="719" r="6"/><text class="lb" x="470" y="722">PFN1</text></g>
<g id="d-HSPE1"><circle class="n2" cx="460" cy="753" r="6"/><text class="lb" x="467" y="756">HSPE1</text></g>
<g id="d-FDPS"><circle class="n2" cx="443" cy="677" r="4"/><text class="lb" x="448" y="680">FDPS</text></g>
<g id="d-FABP5"><circle class="n2" cx="423" cy="756" r="4"/><text class="lb" x="428" y="759">FABP5</text></g>
<g id="d-P4HB"><circle class="n2" cx="416" cy="716" r="5.5"/><text class="lb" x="422" y="719">P4HB</text></g>
<g id="d-NUTF2"><circle class="n2" cx="381" cy="683" r="4"/><text class="lb" x="386" y="686">NUTF2</text></g>
<g id="d-ARHGDIA"><circle class="n2" cx="368" cy="724" r="4"/><text class="lb" x="373" y="727">ARHGDIA</text></g>
<g id="d-TALDO1"><circle class="n3" cx="643" cy="723" r="4"/><text class="lb" x="648" y="726">TALDO1</text></g>
<g id="d-PTMS"><circle class="n3" cx="598" cy="750" r="6"/><text class="lb" x="605" y="753">PTMS</text></g>
<g id="d-PARK7"><circle class="n3" cx="589" cy="712" r="6"/><text class="lb" x="596" y="715">PARK7</text></g>
<g id="d-TPM3"><circle class="n3" cx="560" cy="759" r="5"/><text class="lb" x="566" y="762">TPM3</text></g>
<g id="d-SOD2"><circle class="n3" cx="558" cy="677" r="4"/><text class="lb" x="563" y="680">SOD2</text></g>
<g id="d-SOD1"><circle class="n3" cx="552" cy="722" r="6"/><text class="lb" x="559" y="725">SOD1</text></g>
<g id="d-FTL"><circle class="n4" cx="375" cy="781" r="4"/><text class="lb" x="380" y="784">FTL</text></g>
<g id="d-FTH1"><circle class="n4" cx="420" cy="783" r="4"/><text class="lb" x="425" y="786">FTH1</text></g>
<g id="d-TPD52"><circle class="n4" cx="394" cy="824" r="5"/><text class="lb" x="400" y="827">TPD52</text></g>
<g id="d-ARPC5"><circle class="n4" cx="419" cy="845" r="4"/><text class="lb" x="424" y="848">ARPC5</text></g>
<g id="d-ARPC1A"><circle class="n4" cx="369" cy="855" r="4"/><text class="lb" x="374" y="858">ARPC1A</text></g>
<g id="d-ENO2"><circle class="n4" cx="401" cy="879" r="5"/><text class="lb" x="407" y="882">ENO2</text></g>
<g id="d-HPX"><circle class="n5" cx="517" cy="801" r="5.5"/><text class="lb" x="523" y="804">HPX</text></g>
<g id="d-CLU"><circle class="n5" cx="509" cy="832" r="5.5"/><text class="lb" x="515" y="835">CLU</text></g>
<g id="d-ORM1"><circle class="n5" cx="488" cy="781" r="5.5"/><text class="lb" x="494" y="784">ORM1</text></g>
<g id="d-HP"><circle class="n5" cx="478" cy="836" r="5.5"/><text class="lb" x="484" y="839">HP</text></g>
<g id="d-SERPINA3"><circle class="n5" cx="465" cy="808" r="6"/><text class="lb" x="471" y="811">SERPINA3</text></g>
<g id="d-SGIP1"><circle class="n6" cx="577" cy="787" r="5.5"/><text class="lb" x="583" y="790">SGIP1</text></g>
<g id="d-ATP6V1A"><circle class="n6" cx="622" cy="780" r="4"/><text class="lb" x="627" y="783">ATP6V1A</text></g>
<g id="d-AMPH"><circle class="n6" cx="604" cy="822" r="5.5"/><text class="lb" x="610" y="825">AMPH</text></g>
<g id="d-AP2S1"><circle class="n6" cx="559" cy="830" r="4"/><text class="lb" x="564" y="833">AP2S1</text></g>
<g id="d-NME1"><circle class="n7" cx="464" cy="870" r="4"/><text class="lb" x="469" y="873">NME1</text></g>
<g id="d-PPA2"><circle class="n7" cx="503" cy="861" r="4"/><text class="lb" x="508" y="864">PPA2</text></g>
<g id="d-CLTC"><circle class="n7" cx="511" cy="894" r="4"/><text class="lb" x="516" y="897">CLTC</text></g>
<g id="d-GOT2"><circle class="n7" cx="472" cy="902" r="4"/><text class="lb" x="477" y="905">GOT2</text></g>
<g id="d-BDH2"><circle class="n8" cx="562" cy="858" r="4"/><text class="lb" x="567" y="861">BDH2</text></g>
<g id="d-GCSH"><circle class="n8" cx="609" cy="858" r="4"/><text class="lb" x="614" y="861">GCSH</text></g>
<g id="d-GLO1"><circle class="n8" cx="563" cy="904" r="4"/><text class="lb" x="568" y="907">GLO1</text></g>
<g id="d-DECR1"><circle class="n8" cx="609" cy="904" r="4"/><text class="lb" x="614" y="907">DECR1</text></g>
<g id="d-HEXB"><circle class="n9" cx="656" cy="861" r="4"/><text class="lb" x="661" y="864">HEXB</text></g>
<g id="d-HEXA"><circle class="n9" cx="700" cy="866" r="4"/><text class="lb" x="705" y="869">HEXA</text></g>
<g id="d-CTSB"><circle class="n9" cx="674" cy="902" r="4"/><text class="lb" x="679" y="905">CTSB</text></g>
<g id="legend-d">
<rect x="689" y="672" width="10" height="10" fill="#a6cee3"/><text class="lg" x="702" y="681">MCODE-1</text>
<rect x="689" y="685.7" width="10" height="10" fill="#1f78b4"/><text class="lg" x="702" y="694.7">MCODE-2</text>
<rect x="689" y="699.4" width="10" height="10" fill="#b2df8a"/><text class="lg" x="702" y="708.4">MCODE-3</text>
<rect x="689" y="713.1" width="10" height="10" fill="#33a02c"/><text class="lg" x="702" y="722.1">MCODE-4</text>
<rect x="689" y="726.8" width="10" height="10" fill="#fb9a99"/><text class="lg" x="702" y="735.8">MCODE-5</text>
<rect x="689" y="740.5" width="10" height="10" fill="#e31a1c"/><text class="lg" x="702" y="749.5">MCODE-6</text>
<rect x="689" y="754.2" width="10" height="10" fill="#fdbf6f"/><text class="lg" x="702" y="763.2">MCODE-7</text>
<rect x="689" y="767.9" width="10" height="10" fill="#ff7f00"/><text class="lg" x="702" y="776.9">MCODE-8</text>
<rect x="689" y="781.6" width="10" height="10" fill="#cab2d6"/><text class="lg" x="702" y="790.6">MCODE-9</text>
</g>
</svg>
